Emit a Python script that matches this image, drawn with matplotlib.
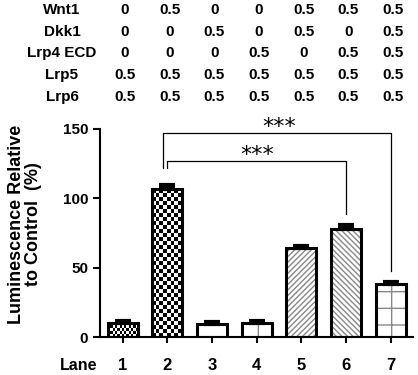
import numpy as np
import matplotlib.pyplot as plt
import matplotlib.transforms as mtransforms

plt.rcParams['font.family'] = ['Liberation Sans', 'DejaVu Sans']
plt.rcParams['font.weight'] = 'bold'

# data
lanes = [1, 2, 3, 4, 5, 6, 7]
values = [10.5, 106.5, 9.5, 10.5, 64.5, 78.0, 38.5]
errors = [1.2, 3.0, 1.5, 1.3, 1.5, 3.0, 1.5]
hatches = [None, None, '-', '|', '//////', '\\\\\\\\\\\\', '+']
row_names = ['Wnt1', 'Dkk1', 'Lrp4 ECD', 'Lrp5', 'Lrp6']
row_values = [
    ['0', '0.5', '0', '0', '0.5', '0.5', '0.5'],
    ['0', '0', '0.5', '0', '0.5', '0', '0.5'],
    ['0', '0', '0', '0.5', '0', '0.5', '0.5'],
    ['0.5', '0.5', '0.5', '0.5', '0.5', '0.5', '0.5'],
    ['0.5', '0.5', '0.5', '0.5', '0.5', '0.5', '0.5'],
]
# significance brackets: (lane a, lane b, bracket height, left leg end, right leg end)
brackets = [(2, 7, 147, 122, 48), (2, 6, 127, 122, 89)]

fig = plt.figure(figsize=(4.18, 3.75), dpi=100)
ax = fig.add_axes([0.239, 0.101, 0.749, 0.555])

width = 0.67
# hatched fills (grey) then black outline on top
for x, v, h in zip(lanes, values, hatches):
    if h is not None:
        ax.bar(x, v, width=width, color='white', edgecolor='#888888', hatch=h, linewidth=0, zorder=2)

# checkerboard fills for lanes 1 and 2
checker = {1: (13, 2.2), 2: (8, 2.9)}
for lane, (ncols, cell_h) in checker.items():
    v = values[lane - 1]
    bar = ax.bar(lane, v, width=width, color='white', linewidth=0, zorder=2)[0]
    nrows = max(int(round(v / cell_h)), 1)
    img = (np.indices((nrows, ncols)).sum(axis=0) % 2).astype(float)
    im = ax.imshow(img, cmap='gray', extent=(lane - width / 2, lane + width / 2, 0, v),
                   aspect='auto', interpolation='nearest', zorder=2.5, vmin=0, vmax=1)
    im.set_clip_path(bar)

ax.bar(lanes, values, width=width, fill=False, edgecolor='black', linewidth=2.2, zorder=3)
ax.errorbar(lanes, values, yerr=[np.zeros(len(errors)), errors], fmt='none',
            ecolor='black', elinewidth=2.2, capsize=6, capthick=3, zorder=4)

for a, b, h, la, lb in brackets:
    xa = a - 0.1 if b == 7 else a
    ax.plot([xa, xa, b, b], [la, h, h, lb],
            color='black', linewidth=0.9, clip_on=False, zorder=5)
    ax.text((a + b) / 2, h - 3, '***', ha='center', va='bottom', fontsize=16,
            fontweight='normal', family='DejaVu Sans', clip_on=False)

ax.set_xlim(0.49, 7.5)
ax.set_ylim(0, 150)
ax.set_yticks([0, 50, 100, 150])
ax.set_xticks(lanes)
ax.set_xticklabels([str(l) for l in lanes])
ax.tick_params(axis='y', labelsize=11, width=1.5, length=5)
ax.tick_params(axis='x', labelsize=12, width=1.5, length=4, pad=11)
for s in ['top', 'right']:
    ax.spines[s].set_visible(False)
for s in ['left', 'bottom']:
    ax.spines[s].set_linewidth(1.5)
ax.set_ylabel('Luminescence Relative\nto Control  (%)', fontsize=13, fontweight='bold',
              linespacing=1.0, multialignment='center')
ax.yaxis.set_label_coords(-0.185, 0.543)

# condition table above the plot
trans = mtransforms.blended_transform_factory(ax.transData, fig.transFigure)
row_y = [1 - 10 / 375, 1 - 32 / 375, 1 - 53 / 375, 1 - 75 / 375, 1 - 97 / 375]
for name, vals, y in zip(row_names, row_values, row_y):
    fig.text(62 / 418, y, name, ha='center', va='center', fontsize=11, fontweight='bold')
    for x, t in zip(lanes, vals):
        ax.text(x + 0.05, y, t, transform=trans, ha='center', va='center', fontsize=11,
                fontweight='bold', clip_on=False)
fig.text(79 / 418, 1 - 366 / 375, 'Lane', ha='center', va='center', fontsize=11.5, fontweight='bold')

fig.savefig('out.png', dpi=100)
